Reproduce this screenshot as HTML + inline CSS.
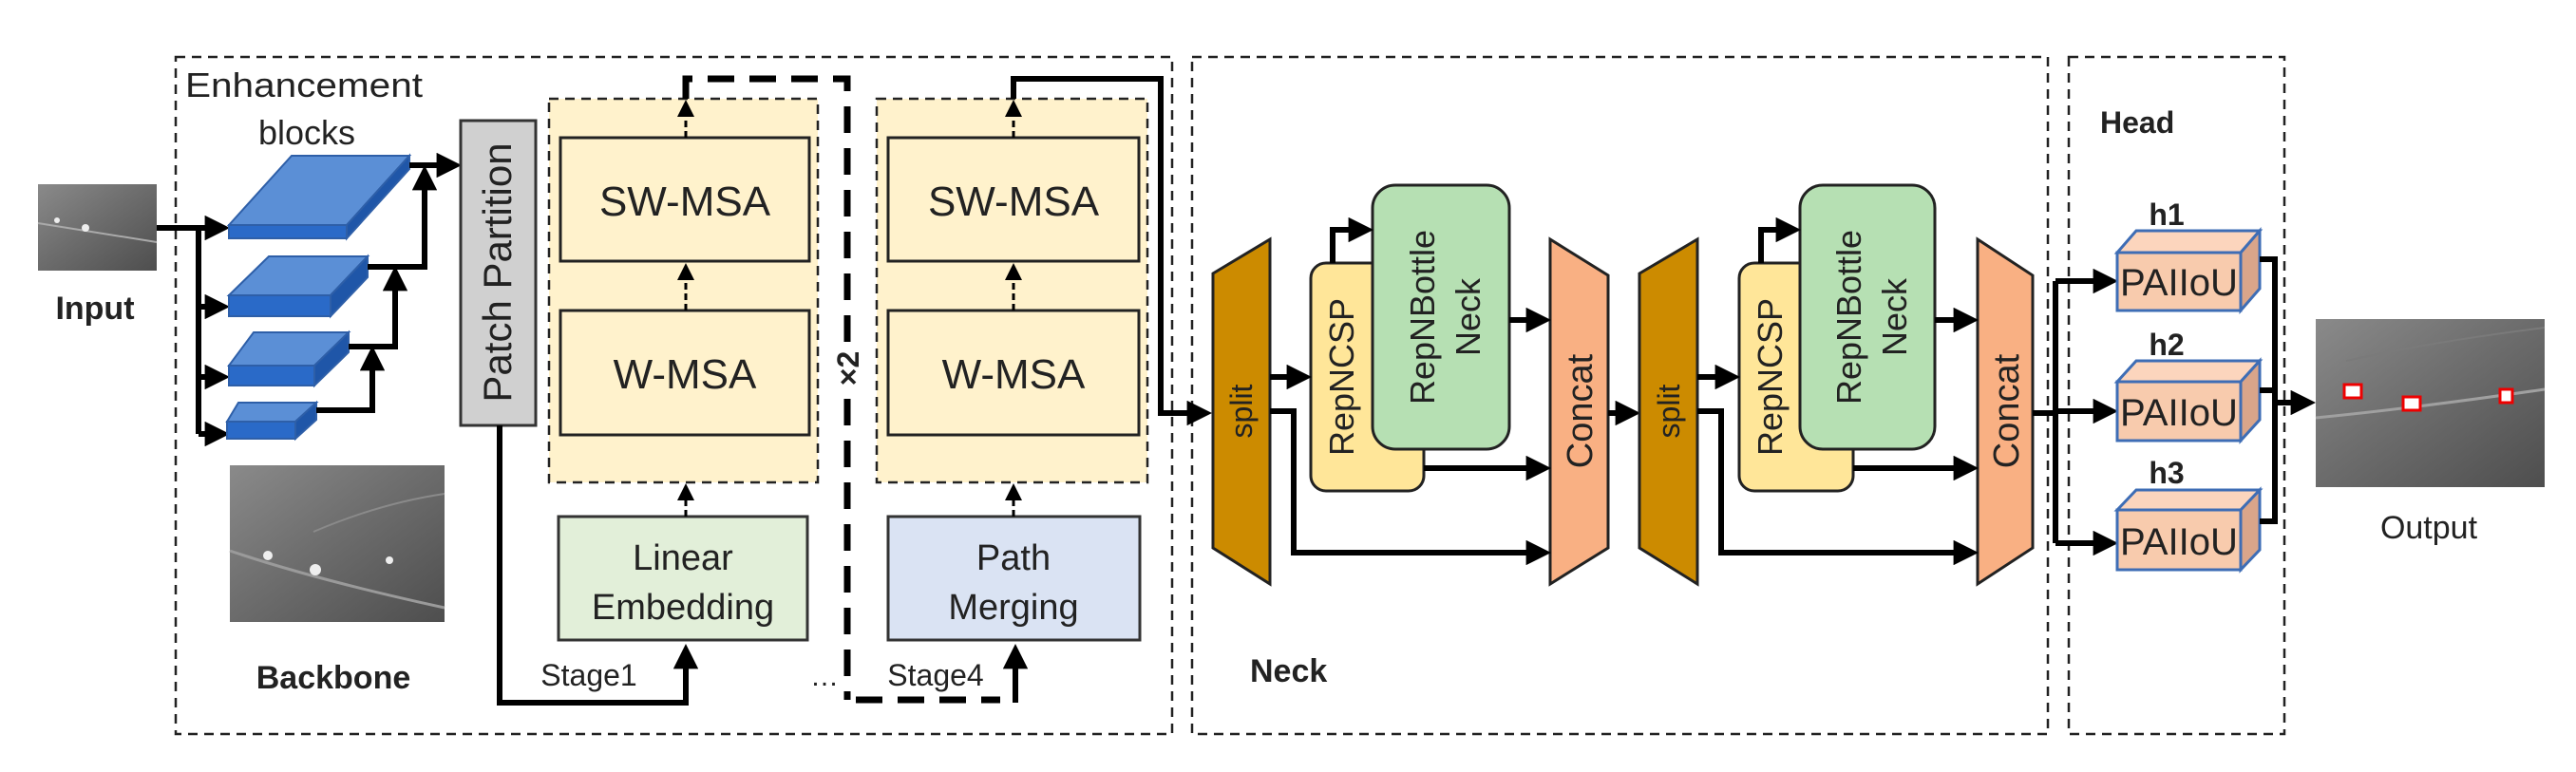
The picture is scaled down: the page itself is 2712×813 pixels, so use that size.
<!DOCTYPE html>
<html><head><meta charset="utf-8"><style>
html,body{margin:0;padding:0;background:#fff}
svg{display:block}
text{font-family:"Liberation Sans",sans-serif;fill:#222}
</style></head><body>
<svg width="2712" height="813" viewBox="0 0 2712 813" xmlns="http://www.w3.org/2000/svg">
<defs>
<marker id="ah" markerWidth="4.4" markerHeight="4.4" refX="3.4" refY="2.2" orient="auto" markerUnits="strokeWidth"><path d="M0,0 L4.4,2.2 L0,4.4 z" fill="#000"/></marker>
<marker id="as" markerWidth="6" markerHeight="6" refX="5" refY="3" orient="auto" markerUnits="strokeWidth"><path d="M0,0 L6,3 L0,6 z" fill="#000"/></marker>
<linearGradient id="img" x1="0" y1="0" x2="1" y2="1"><stop offset="0" stop-color="#8a8a8a"/><stop offset="0.45" stop-color="#6e6e6e"/><stop offset="1" stop-color="#4e4e4e"/></linearGradient>
</defs>

<g fill="none" stroke="#222" stroke-width="2.5" stroke-dasharray="10,7">
<rect x="185" y="60" width="1049" height="713"/>
<rect x="1255" y="60" width="901" height="713"/>
<rect x="2178" y="60" width="227" height="713"/>
</g>

<rect x="40" y="194" width="125" height="91" fill="url(#img)"/>
<path d="M40,235 L165,255" stroke="#aaa" stroke-width="2"/>
<circle cx="60" cy="232" r="3" fill="#eee"/><circle cx="90" cy="240" r="4" fill="#eee"/>
<text x="100" y="336" font-size="34" font-weight="bold" text-anchor="middle">Input</text>

<text x="195" y="102" font-size="36" textLength="250" lengthAdjust="spacingAndGlyphs" fill="#333">Enhancement</text>
<text x="323" y="152" font-size="36" text-anchor="middle" fill="#333">blocks</text>

<g stroke="#000" stroke-width="6" fill="none">
<path d="M165,240 H236" marker-end="url(#ah)"/>
<path d="M209,240 V457"/>
<path d="M209,323 H236" marker-end="url(#ah)"/>
<path d="M209,397 H236" marker-end="url(#ah)"/>
<path d="M209,457 H236" marker-end="url(#ah)"/>
</g>

<g stroke="#2e5fa8" stroke-width="2">
<polygon points="241,237 307,164 431,164 365,237" fill="#5b8fd6"/>
<rect x="241" y="237" width="124" height="14" fill="#2a6ac8"/>
<polygon points="365,237 431,164 431,178 365,251" fill="#1f56a8"/>
<polygon points="241,311 283,270 387,270 348,311" fill="#5b8fd6"/>
<rect x="241" y="311" width="107" height="22" fill="#2a6ac8"/>
<polygon points="348,311 387,270 387,292 348,333" fill="#1f56a8"/>
<polygon points="241,385 267,350 367,350 331,385" fill="#5b8fd6"/>
<rect x="241" y="385" width="90" height="21" fill="#2a6ac8"/>
<polygon points="331,385 367,350 367,371 331,406" fill="#1f56a8"/>
<polygon points="239,444 251,424 333,424 311,444" fill="#5b8fd6"/>
<rect x="239" y="444" width="72" height="18" fill="#2a6ac8"/>
<polygon points="311,444 333,424 333,442 311,462" fill="#1f56a8"/>
</g>
<g stroke="#000" stroke-width="6" fill="none">
<path d="M333,432 H392 V370" marker-end="url(#ah)"/>
<path d="M367,365 H416 V286" marker-end="url(#ah)"/>
<path d="M387,281 H447 V180" marker-end="url(#ah)"/>
<path d="M431,174 H480" marker-end="url(#ah)"/>
</g>

<rect x="242" y="490" width="226" height="165" fill="url(#img)"/>
<path d="M242,580 Q330,610 468,640" stroke="#9a9a9a" stroke-width="3" fill="none"/>
<path d="M330,560 Q400,530 468,520" stroke="#8a8a8a" stroke-width="2" fill="none"/>
<circle cx="282" cy="585" r="5" fill="#eee"/><circle cx="332" cy="600" r="6" fill="#eee"/><circle cx="410" cy="590" r="4" fill="#eee"/>
<text x="351" y="725" font-size="34" font-weight="bold" text-anchor="middle">Backbone</text>

<rect x="485" y="127" width="79" height="321" fill="#d0d0d0" stroke="#333" stroke-width="3"/>
<text transform="translate(538,287) rotate(-90)" font-size="42" text-anchor="middle" fill="#333">Patch Partition</text>
<path d="M526,448 V740 H722 V684" stroke="#000" stroke-width="6" fill="none" marker-end="url(#ah)"/>

<rect x="578" y="104" width="283" height="404" fill="#fff2cc" stroke="#222" stroke-width="2.5" stroke-dasharray="10,7"/>
<rect x="590" y="145" width="262" height="130" fill="#fff2cc" stroke="#222" stroke-width="3"/>
<rect x="590" y="327" width="262" height="131" fill="#fff2cc" stroke="#222" stroke-width="3"/>
<text x="721" y="227" font-size="44" text-anchor="middle">SW-MSA</text>
<text x="721" y="409" font-size="44" text-anchor="middle">W-MSA</text>
<rect x="588" y="544" width="262" height="130" fill="#e2efd9" stroke="#333" stroke-width="3"/>
<text x="719" y="600" font-size="38" text-anchor="middle">Linear</text>
<text x="719" y="652" font-size="38" text-anchor="middle">Embedding</text>
<text x="620" y="722" font-size="32" text-anchor="middle" fill="#333">Stage1</text>
<g stroke="#000" stroke-width="3" stroke-dasharray="7,4" fill="none">
<path d="M722,145 V108" marker-end="url(#as)"/>
<path d="M722,327 V280" marker-end="url(#as)"/>
<path d="M722,544 V512" marker-end="url(#as)"/>
</g>

<path d="M722,104 V83 H892 V737 M901,737 H1053" stroke="#000" stroke-width="7" stroke-dasharray="28,16" fill="none"/>
<rect x="880" y="362" width="26" height="52" fill="#fff"/>
<text transform="translate(904,388) rotate(-90)" font-size="32" font-weight="bold" text-anchor="middle">×2</text>
<text x="868" y="722" font-size="30" text-anchor="middle">…</text>

<rect x="923" y="104" width="285" height="404" fill="#fff2cc" stroke="#222" stroke-width="2.5" stroke-dasharray="10,7"/>
<rect x="935" y="145" width="264" height="130" fill="#fff2cc" stroke="#222" stroke-width="3"/>
<rect x="935" y="327" width="264" height="131" fill="#fff2cc" stroke="#222" stroke-width="3"/>
<text x="1067" y="227" font-size="44" text-anchor="middle">SW-MSA</text>
<text x="1067" y="409" font-size="44" text-anchor="middle">W-MSA</text>
<rect x="935" y="544" width="265" height="130" fill="#dae3f3" stroke="#333" stroke-width="3"/>
<text x="1067" y="600" font-size="38" text-anchor="middle">Path</text>
<text x="1067" y="652" font-size="38" text-anchor="middle">Merging</text>
<text x="985" y="722" font-size="32" text-anchor="middle" fill="#333">Stage4</text>
<g stroke="#000" stroke-width="3" stroke-dasharray="7,4" fill="none">
<path d="M1067,145 V108" marker-end="url(#as)"/>
<path d="M1067,327 V280" marker-end="url(#as)"/>
<path d="M1067,544 V512" marker-end="url(#as)"/>
</g>
<path d="M1069,740 V684" stroke="#000" stroke-width="6" fill="none" marker-end="url(#ah)"/>
<path d="M1067,104 V83 H1222 V435 H1270" stroke="#000" stroke-width="6" fill="none" marker-end="url(#ah)"/>

<polygon points="1277,288 1337,252 1337,615 1277,577" fill="#cc8b00" stroke="#222" stroke-width="3"/>
<text transform="translate(1318,433) rotate(-90)" font-size="32" text-anchor="middle">split</text>
<rect x="1380" y="277" width="119" height="240" rx="16" fill="#ffe699" stroke="#222" stroke-width="3"/>
<text transform="translate(1425,397) rotate(-90)" font-size="36" text-anchor="middle" fill="#333">RepNCSP</text>
<rect x="1445" y="195" width="144" height="278" rx="24" fill="#b6e0b3" stroke="#222" stroke-width="3"/>
<text transform="translate(1510,334) rotate(-90)" font-size="36" text-anchor="middle" fill="#333">RepNBottle</text>
<text transform="translate(1558,334) rotate(-90)" font-size="36" text-anchor="middle" fill="#333">Neck</text>
<polygon points="1632,252 1693,290 1693,577 1632,615" fill="#f9b083" stroke="#222" stroke-width="3"/>
<text transform="translate(1676,433) rotate(-90)" font-size="38" text-anchor="middle" fill="#333">Concat</text>
<g stroke="#000" stroke-width="6" fill="none">
<path d="M1337,397 H1375" marker-end="url(#ah)"/>
<path d="M1337,433 H1362 V582 H1627" marker-end="url(#ah)"/>
<path d="M1403,277 V242 H1440" marker-end="url(#ah)"/>
<path d="M1589,337 H1627" marker-end="url(#ah)"/>
<path d="M1499,493 H1627" marker-end="url(#ah)"/>
<path d="M1693,435 H1721" marker-end="url(#ah)"/>
</g>

<polygon points="1726,288 1787,252 1787,615 1726,577" fill="#cc8b00" stroke="#222" stroke-width="3"/>
<text transform="translate(1768,433) rotate(-90)" font-size="32" text-anchor="middle">split</text>
<rect x="1831" y="277" width="120" height="240" rx="16" fill="#ffe699" stroke="#222" stroke-width="3"/>
<text transform="translate(1876,397) rotate(-90)" font-size="36" text-anchor="middle" fill="#333">RepNCSP</text>
<rect x="1895" y="195" width="142" height="278" rx="24" fill="#b6e0b3" stroke="#222" stroke-width="3"/>
<text transform="translate(1959,334) rotate(-90)" font-size="36" text-anchor="middle" fill="#333">RepNBottle</text>
<text transform="translate(2007,334) rotate(-90)" font-size="36" text-anchor="middle" fill="#333">Neck</text>
<polygon points="2082,252 2140,290 2140,577 2082,615" fill="#f9b083" stroke="#222" stroke-width="3"/>
<text transform="translate(2125,433) rotate(-90)" font-size="38" text-anchor="middle" fill="#333">Concat</text>
<g stroke="#000" stroke-width="6" fill="none">
<path d="M1787,397 H1826" marker-end="url(#ah)"/>
<path d="M1787,433 H1812 V582 H2077" marker-end="url(#ah)"/>
<path d="M1854,277 V242 H1890" marker-end="url(#ah)"/>
<path d="M2037,337 H2077" marker-end="url(#ah)"/>
<path d="M1951,493 H2077" marker-end="url(#ah)"/>
</g>
<text x="1316" y="718" font-size="34" font-weight="bold">Neck</text>

<text x="2211" y="140" font-size="32" font-weight="bold">Head</text>
<g stroke="#000" stroke-width="6" fill="none">
<path d="M2140,435 H2164"/>
<path d="M2164,296 V572"/>
<path d="M2164,296 H2224" marker-end="url(#ah)"/>
<path d="M2164,433 H2224" marker-end="url(#ah)"/>
<path d="M2164,572 H2224" marker-end="url(#ah)"/>
</g>
<g stroke="#3e6db5" stroke-width="3">
<polygon points="2229,266 2249,243 2379,243 2359,266" fill="#fcd5bd"/>
<polygon points="2359,266 2379,243 2379,304 2359,327" fill="#d9a58a"/>
<rect x="2229" y="266" width="130" height="61" fill="#f8cbad"/>
<polygon points="2229,402 2249,380 2379,380 2359,402" fill="#fcd5bd"/>
<polygon points="2359,402 2379,380 2379,442 2359,464" fill="#d9a58a"/>
<rect x="2229" y="402" width="130" height="62" fill="#f8cbad"/>
<polygon points="2229,537 2249,516 2379,516 2359,537" fill="#fcd5bd"/>
<polygon points="2359,537 2379,516 2379,579 2359,600" fill="#d9a58a"/>
<rect x="2229" y="537" width="130" height="63" fill="#f8cbad"/>
</g>
<text x="2294" y="311" font-size="40" text-anchor="middle" textLength="124" lengthAdjust="spacingAndGlyphs">PAIIoU</text>
<text x="2294" y="448" font-size="40" text-anchor="middle" textLength="124" lengthAdjust="spacingAndGlyphs">PAIIoU</text>
<text x="2294" y="584" font-size="40" text-anchor="middle" textLength="124" lengthAdjust="spacingAndGlyphs">PAIIoU</text>
<text x="2281" y="237" font-size="32" font-weight="bold" text-anchor="middle">h1</text>
<text x="2281" y="374" font-size="32" font-weight="bold" text-anchor="middle">h2</text>
<text x="2281" y="509" font-size="32" font-weight="bold" text-anchor="middle">h3</text>
<g stroke="#000" stroke-width="6" fill="none">
<path d="M2379,273 H2395 V549 H2379"/>
<path d="M2379,411 H2395"/>
<path d="M2395,424 H2432" marker-end="url(#ah)"/>
</g>

<rect x="2438" y="336" width="241" height="177" fill="url(#img)"/>
<path d="M2438,440 Q2540,430 2679,410" stroke="#a0a0a0" stroke-width="3" fill="none"/>
<path d="M2470,380 Q2560,360 2679,345" stroke="#7a7a7a" stroke-width="2" fill="none"/>
<g fill="#fff" stroke="#e00" stroke-width="3">
<rect x="2468" y="405" width="18" height="14"/>
<rect x="2530" y="418" width="18" height="14"/>
<rect x="2632" y="410" width="13" height="14"/>
</g>
<text x="2557" y="567" font-size="34" text-anchor="middle">Output</text>
</svg>
</body></html>
